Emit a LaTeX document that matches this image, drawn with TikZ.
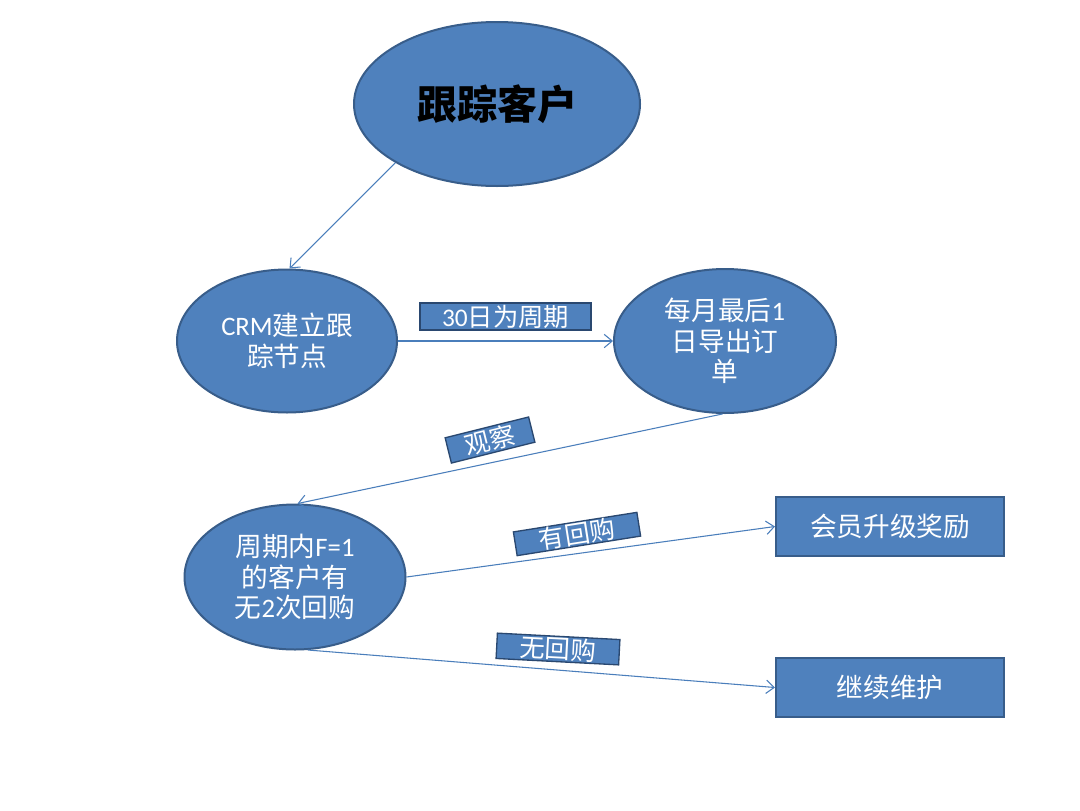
\documentclass[tikz,border=0pt]{standalone}
\usepackage{fontspec}
\setmainfont{Noto Sans CJK SC}
\newfontfamily\lat{Carlito}
\usetikzlibrary{shapes.geometric,arrows.meta}
\definecolor{bfill}{HTML}{4F81BD}
\definecolor{bline}{HTML}{385D8A}
\definecolor{cline}{HTML}{4A7EBB}
\definecolor{lline}{HTML}{2A4870}
\tikzset{
  ell/.style={ellipse, draw=bline, line width=1.5pt, fill=bfill, inner sep=0pt, text=white, align=center, font=\fontsize{20pt}{23pt}\selectfont},
  rbox/.style={rectangle, draw=bline, line width=1.5pt, fill=bfill, inner sep=0pt, text=white, minimum width=171pt, minimum height=44.25pt, font=\fontsize{20pt}{23pt}\selectfont},
  lbox/.style={rectangle, draw=lline, line width=1pt, fill=bfill, inner sep=0pt, text=white, font=\fontsize{19pt}{21pt}\selectfont},
  conn/.style={draw=cline, line width=0.8pt, -{Straight Barb[length=6pt,width=10pt,line width=0.8pt]}}
}
\begin{document}
\begin{tikzpicture}[x=0.75pt,y=-0.75pt]
\fill[white] (0,0) rectangle (1080,810);
\useasboundingbox (0,0) rectangle (1080,810);
\node[ell, minimum width=214.5pt, minimum height=123pt, text=black, font=\fontsize{30pt}{34pt}\selectfont\bfseries] (top) at (497,104) {跟踪客户};
\node[ell, minimum width=165pt, minimum height=107.25pt] (e2) at (287,341) {{\lat CRM}建立跟\\踪节点};
\node[ell, minimum width=166.5pt, minimum height=108pt] (e3) at (725,341) {每月最后{\lat 1}\\日导出订\\单};
\node[ell, minimum width=165.75pt, minimum height=108.75pt] (e4) at (295,577) {周期内{\lat F=1}\\的客户有\\无{\lat 2}次回购};
\node[rbox] (r1) at (890,526.5) {会员升级奖励};
\node[rbox] (r2) at (890,687.5) {继续维护};
\draw[conn] (top.210) -- (e2.88);
\draw[conn] (e2.east) -- (e3.west);
\draw[conn] (e3.-92) -- (e4.88);
\draw[conn] (e4.east) -- (r1.west);
\draw[conn] (e4.-80) -- (r2.west);
\node[lbox, minimum width=128.25pt, minimum height=20.25pt] (l1) at (505.5,316.5) {{\lat 30}日为周期};
\node[lbox, minimum width=64.5pt, minimum height=19.5pt, rotate=14] (l2) at (490,440) {观察};
\node[lbox, minimum width=93.75pt, minimum height=18pt, rotate=9] (l3) at (577,534) {有回购};
\node[lbox, minimum width=92pt, minimum height=19pt, rotate=-3] (l4) at (558,649) {无回购};
\end{tikzpicture}
\end{document}
